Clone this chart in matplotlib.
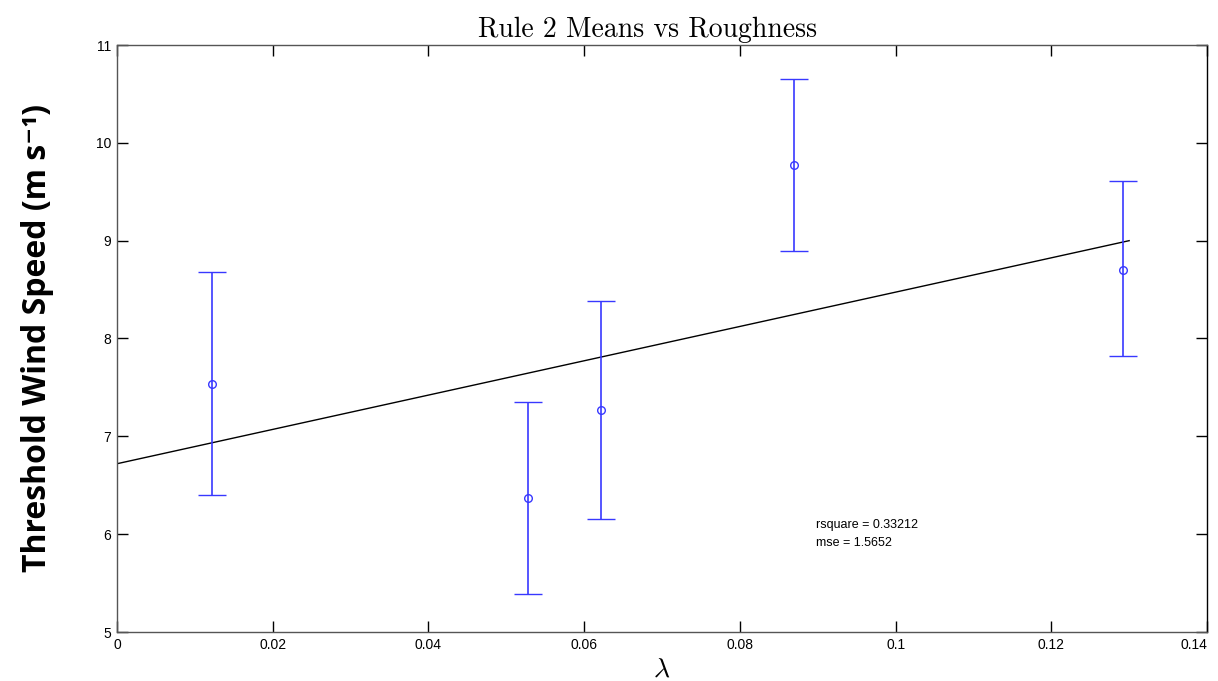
import matplotlib
matplotlib.use("Agg")
import matplotlib.pyplot as plt
from matplotlib import font_manager
import numpy as np

# Data
lam = [0.0122, 0.0528, 0.0622, 0.0870, 0.1292]
means = [7.54, 6.37, 7.27, 9.77, 8.70]
upper = [8.68, 7.35, 8.38, 10.65, 9.61]
lower = [6.40, 5.39, 6.15, 8.89, 7.82]
fit_x = [0.0, 0.1300]
fit_y = [6.72, 9.00]
xticks = [0, 0.02, 0.04, 0.06, 0.08, 0.1, 0.12, 0.14]
xticklabels = ["0", "0.02", "0.04", "0.06", "0.08", "0.1", "0.12", "0.14"]
yticks = [5, 6, 7, 8, 9, 10, 11]

plt.rcParams['mathtext.fontset'] = 'cm'

names = {f.name for f in font_manager.fontManager.ttflist}
tick_font = 'Liberation Sans Narrow' if 'Liberation Sans Narrow' in names else 'Liberation Sans'

fig = plt.figure(figsize=(12.18, 6.81), dpi=100)
ax = fig.add_axes([117/1218, 1-632/681, (1207-117)/1218, (632-45)/681])

m = np.array(means)
yerr = [m - np.array(lower), np.array(upper) - m]
ax.plot(fit_x, fit_y, color='black', lw=1.0, zorder=2)
ax.errorbar(lam, means, yerr=yerr, fmt='o', color='#3838ff', mfc='none',
            ms=5.5, mew=1.0, elinewidth=1.2, capsize=10, capthick=1.2, zorder=3)

ax.set_xlim(0, 0.14)
ax.set_ylim(5, 11)
ax.set_xticks(xticks)
ax.set_xticklabels(xticklabels)
ax.set_yticks(yticks)
ax.tick_params(direction='in', length=8, width=1, top=True, right=True,
               labelsize=11, colors='black', pad=4)
for lbl in ax.get_xticklabels() + ax.get_yticklabels():
    lbl.set_family(tick_font)
if tick_font == 'Liberation Sans':
    for lbl in ax.get_xticklabels() + ax.get_yticklabels():
        lbl.set_fontsize(10)
    ax.get_xticklabels()[-1].set_horizontalalignment('right')
for s in ax.spines.values():
    s.set_color('#555555')
    s.set_linewidth(1.0)
ax.spines['right'].set_color('black')

ax.set_title('Rule 2 Means vs Roughness', fontsize=20, family='cmr10', pad=6,
             x=0.487)
ax.set_xlabel(r'$\lambda$', fontsize=20, labelpad=2)
ax.set_ylabel('Threshold Wind Speed (m s\u207b\u00b9)', fontsize=23,
              fontweight='bold', family=['Open Sans', 'DejaVu Sans'], labelpad=30)

ax.text(0.0898, 6.09, 'rsquare = 0.33212', fontsize=9, family=tick_font,
        va='center', ha='left')
ax.text(0.0898, 5.91, 'mse = 1.5652', fontsize=9, family=tick_font,
        va='center', ha='left')

fig.savefig('out.png', dpi=100)
